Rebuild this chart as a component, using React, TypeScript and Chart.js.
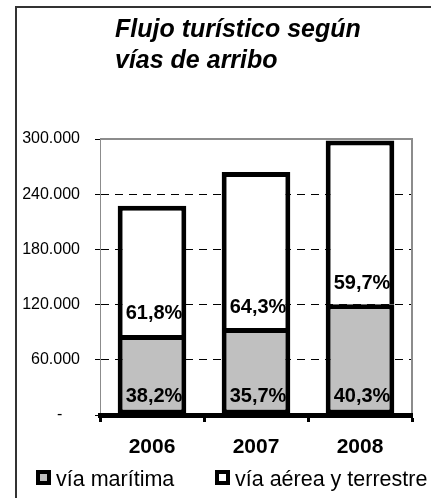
import React, { useEffect, useRef } from 'react';
import { Chart, registerables } from 'chart.js';

Chart.register(...registerables);

const years = ['2006', '2007', '2008'];
const maritima = [87000, 94500, 120500];
const aerea = [140500, 169500, 178000];
const maritimaPct = ['38,2%', '35,7%', '40,3%'];
const aereaPct = ['61,8%', '64,3%', '59,7%'];
const seriesNames = ['vía marítima', 'vía aérea y terrestre'];
const titleLines = ['Flujo turístico según', 'vías de arribo'];
const yMin = 0;
const yMax = 300000;
const yStep = 60000;

const FONT = 'Arial, "Liberation Sans", sans-serif';
const GREY = '#c0c0c0';

function fmt(v: number): string {
  if (v === 0) return '-    ';
  return String(v).replace(/\B(?=(\d{3})+(?!\d))/g, '.');
}

const decor = {
  id: 'decor',
  beforeDraw(chart: any) {
    const ctx = chart.ctx;
    ctx.save();
    ctx.strokeStyle = '#333';
    ctx.lineWidth = 2;
    ctx.beginPath();
    ctx.moveTo(16, 500);
    ctx.lineTo(16, 7);
    ctx.lineTo(440, 7);
    ctx.stroke();
    ctx.restore();
  },
  beforeDatasetsDraw(chart: any) {
    const { ctx, chartArea } = chart;
    ctx.save();
    ctx.strokeStyle = '#8c8c8c';
    ctx.lineWidth = 2;
    ctx.beginPath();
    ctx.moveTo(chartArea.left, chartArea.top);
    ctx.lineTo(chartArea.right, chartArea.top);
    ctx.lineTo(chartArea.right, chartArea.bottom);
    ctx.stroke();
    ctx.restore();
  },
  afterDatasetsDraw(chart: any) {
    const ctx = chart.ctx;
    ctx.save();
    ctx.font = `bold 20px ${FONT}`;
    ctx.fillStyle = '#000';
    ctx.textAlign = 'center';
    ctx.textBaseline = 'middle';
    const labelSets = [maritimaPct, aereaPct];
    chart.data.datasets.forEach((ds: any, di: number) => {
      const meta = chart.getDatasetMeta(di);
      meta.data.forEach((bar: any, i: number) => {
        const off = di === 0 ? 18 : 21;
        ctx.fillText(labelSets[di][i], bar.x + 2, bar.base - off);
      });
    });
    ctx.restore();
  },
  afterDraw(chart: any) {
    const ctx = chart.ctx;
    ctx.save();
    // title
    ctx.fillStyle = '#000';
    ctx.font = `italic bold 25px ${FONT}`;
    ctx.textAlign = 'left';
    ctx.textBaseline = 'alphabetic';
    ctx.fillText(titleLines[0], 115, 37);
    ctx.fillText(titleLines[1], 115, 68);
    // legend
    const items = [
      { x: 36, fill: GREY, text: seriesNames[0] },
      { x: 215, fill: '#ffffff', text: seriesNames[1] },
    ];
    ctx.font = `21.5px ${FONT}`;
    items.forEach((it) => {
      ctx.fillStyle = '#000';
      ctx.fillRect(it.x, 470, 15, 15);
      ctx.fillStyle = it.fill;
      ctx.fillRect(it.x + 4, 474, 7, 7);
      ctx.fillStyle = '#000';
      ctx.fillText(it.text, it.x + 20, 486);
    });
    ctx.restore();
  },
};

export default function App() {
  const ref = useRef<HTMLCanvasElement | null>(null);
  useEffect(() => {
    document.body.style.margin = '0';
    const canvas = ref.current;
    if (!canvas) return;
    const chart = new Chart(canvas, {
      type: 'bar',
      data: {
        labels: years,
        datasets: [
          {
            label: seriesNames[0],
            data: maritima,
            backgroundColor: GREY,
            borderColor: '#000',
            borderWidth: 5,
            borderSkipped: false,
          },
          {
            label: seriesNames[1],
            data: aerea,
            backgroundColor: '#ffffff',
            borderColor: '#000',
            borderWidth: 5,
          },
        ],
      },
      options: {
        animation: false,
        responsive: false,
        layout: { padding: { left: 0, right: 19, top: 139, bottom: 0 } },
        datasets: { bar: { barPercentage: 0.66, categoryPercentage: 1 } },
        plugins: {
          legend: { display: false },
          title: { display: false },
          tooltip: { enabled: false },
        },
        scales: {
          x: {
            stacked: true,
            afterFit: (s: any) => { s.height = 83; },
            grid: {
              offset: true,
              drawOnChartArea: false,
              tickLength: 7,
              tickWidth: 3,
              tickColor: '#000',
            },
            border: { color: '#000', width: 5, z: 1 },
            ticks: {
              color: '#000',
              padding: 13,
              font: { family: FONT, size: 21, weight: 'bold' },
            },
          },
          y: {
            stacked: true,
            min: yMin,
            max: yMax,
            afterFit: (s: any) => { s.width = 100; },
            grid: {
              color: (c: any) => (c.tick && (c.tick.value === yMin || c.tick.value === yMax) ? 'rgba(0,0,0,0)' : '#000'),
              lineWidth: 1,
              tickLength: 5,
              tickColor: '#000',
              tickBorderDash: [],
            },
            border: { color: '#8c8c8c', width: 1, dash: [8, 6] },
            ticks: {
              stepSize: yStep,
              color: '#000',
              padding: 15,
              font: { family: FONT, size: 16 },
              callback: (v: any) => fmt(Number(v)),
            },
          },
        },
      },
      plugins: [decor],
    });
    return () => chart.destroy();
  }, []);
  return (
    <div style={{ position: 'absolute', left: 0, top: 0, width: 431, height: 498 }}>
      <canvas ref={ref} width={431} height={498} style={{ display: 'block', width: 431, height: 498 }} />
    </div>
  );
}
